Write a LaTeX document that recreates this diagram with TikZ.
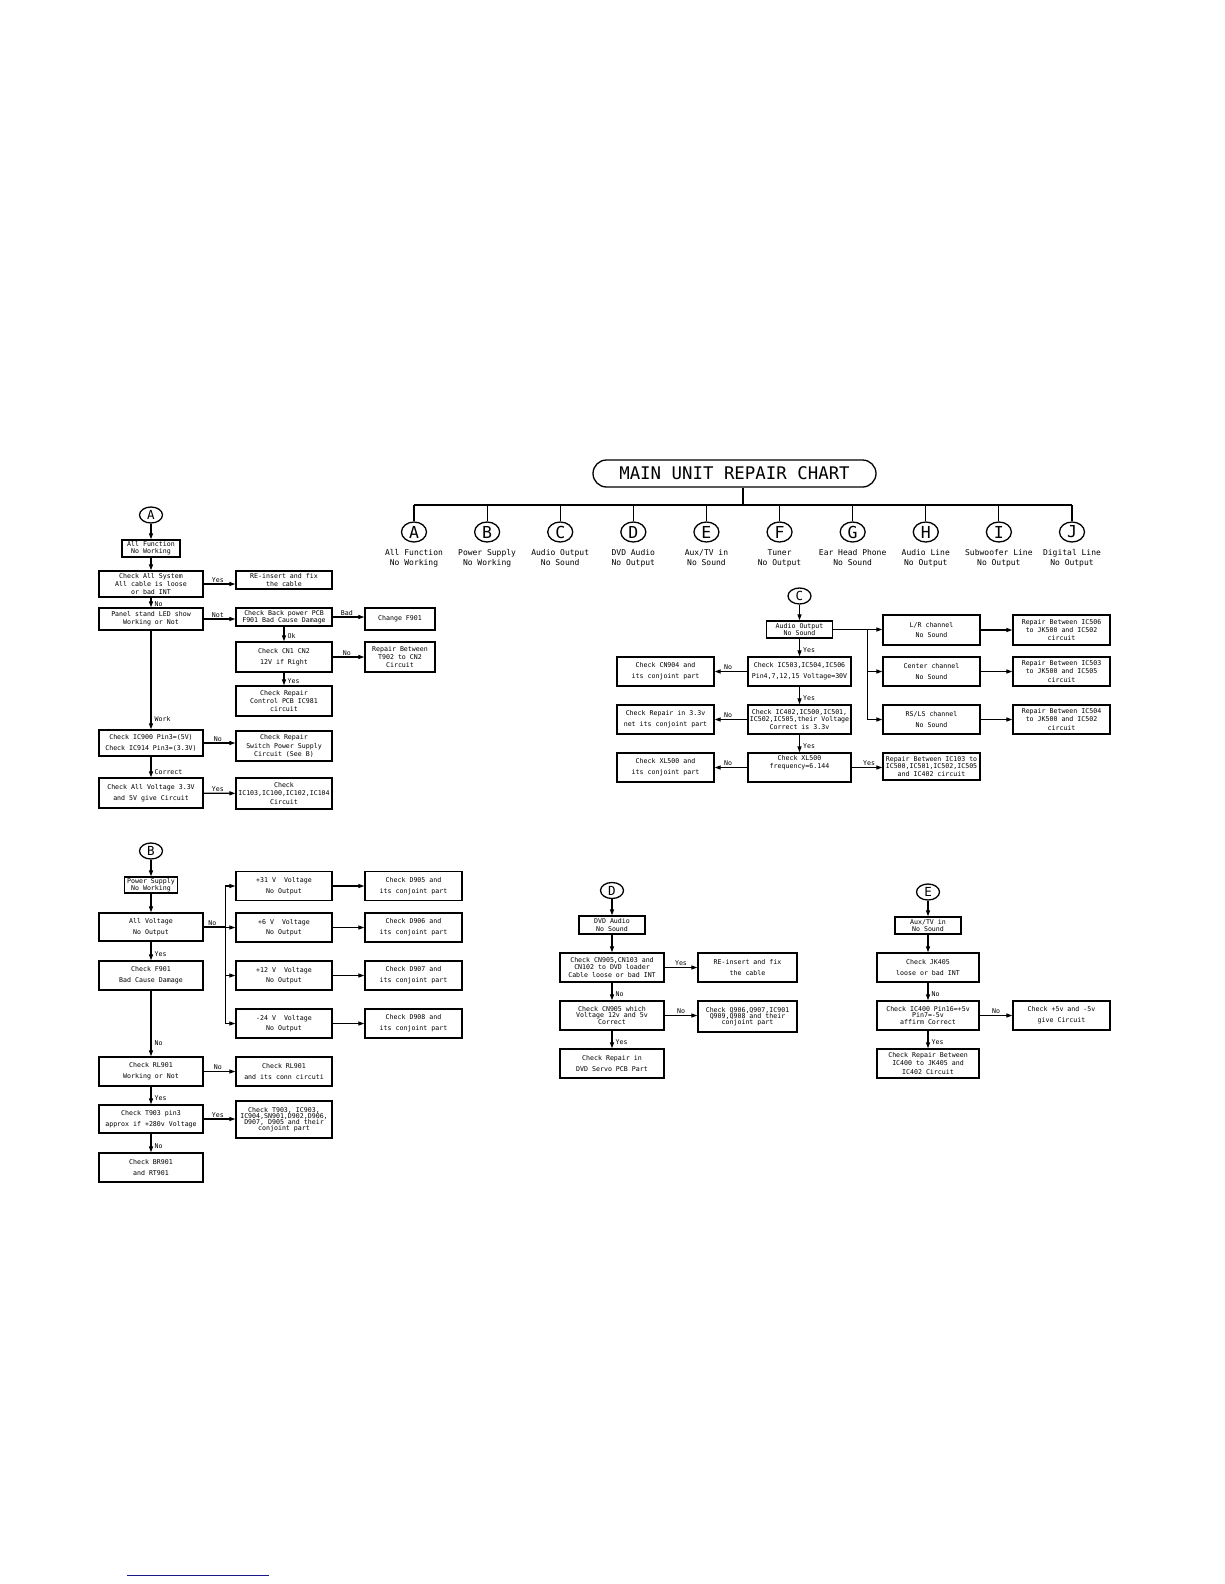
\documentclass[tikz,border=0pt]{standalone}
\usepackage{fontspec}
\usepackage{xcolor}
\usetikzlibrary{arrows.meta,shapes.geometric,calc}
\newfontfamily\cadfont{DejaVu Sans Mono}
\newcommand{\boxfont}{\cadfont\fontsize{6.6}{8.3}\selectfont}
\newcommand{\hdfont}{\cadfont\fontsize{8}{10}\selectfont}
\definecolor{linkblue}{RGB}{25,25,140}

\begin{document}
\begin{tikzpicture}[x=1pt, y=-1pt,
  box/.style={draw, line width=1.3pt, inner sep=1pt, align=center, font=\boxfont},
  letter/.style={draw, ellipse, line width=1.3pt, inner sep=0pt, minimum width=23, minimum height=16,
    font=\cadfont\fontsize{12.5}{12.5}\selectfont},
  bigletter/.style={letter, minimum width=25, minimum height=20, font=\cadfont\fontsize{16.5}{16.5}\selectfont},
  wire/.style={line width=1.2pt},
  arr/.style={line width=1.2pt, -{Triangle[length=6pt,width=4pt]}},
  lab/.style={font=\boxfont, inner sep=1pt},
  vlab/.style={lab, anchor=west, xshift=2pt, pos=0.65},
  hlab/.style={lab, above, pos=0.45}]
\fill[white] (0,0) rectangle (1224,1584);
\useasboundingbox (0,0) rectangle (1224,1584);

% header
\node[draw, line width=1.3pt, rounded corners=13.5pt, minimum width=283, minimum height=27, inner sep=0pt,
  font=\cadfont\fontsize{17.4}{17.4}\selectfont] (title) at (734.5,473.5) {MAIN UNIT REPAIR CHART};
\coordinate (barL) at (414,505);
\coordinate (barR) at (1072,505);
\draw[wire] ([xshift=8.5]title.south) -- ([xshift=8.5]title.south |- barL);
\draw[wire] (barL) -- (barR);
\foreach \n/\txt [count=\i from 0] in {A/{All Function\\No Working}, B/{Power Supply\\No Working},
    C/{Audio Output\\No Sound}, D/{DVD Audio\\No Output}, E/{Aux/TV in\\No Sound},
    F/{Tuner\\No Output}, G/{Ear Head Phone\\No Sound}, H/{Audio Line\\No Output},
    I/{Subwoofer Line\\No Output}, J/{Digital Line\\No Output}} {
  \node[bigletter] (h\n) at ({414+73.11*\i},532) {\n};
  \draw[wire] (h\n |- barL) -- (h\n);
  \node[font=\hdfont, align=center, inner sep=0pt] (h\n-t) at ({414+73.11*\i},558) {\txt};
}

% A
\node[letter] (cA) at (151,515) {A};
\node[box, minimum width=58, minimum height=17] (a1) at (151,548.5) {All Function\\[-1pt]No Working};
\node[box, minimum width=104, minimum height=26] (a2) at (151,584) {Check All System\\All cable is loose\\or bad INT};
\node[box, minimum width=96, minimum height=18] (a2r) at (284,580) {RE-insert and fix\\[-1pt]the cable};
\node[box, minimum width=104, minimum height=22] (a3) at (151,619) {Panel stand LED show\\Working or Not};
\node[box, minimum width=96, minimum height=18] (a3r) at (284,617) {Check Back power PCB\\[-1pt]F901 Bad Cause Damage};
\node[box, minimum width=70, minimum height=22] (a3rr) at (400,619) {Change F901};
\node[box, minimum width=96, minimum height=30] (a4) at (284,657) {Check CN1 CN2\\[2.4pt]12V if Right};
\node[box, minimum width=70, minimum height=30] (a4r) at (400,657) {Repair Between\\T902 to CN2\\Circuit};
\node[box, minimum width=96, minimum height=30] (a5) at (284,701) {Check Repair\\Control PCB IC981\\circuit};
\node[box, minimum width=104, minimum height=26] (a6) at (151,743) {Check IC900 Pin3=(5V)\\[2.4pt]Check IC914 Pin3=(3.3V)};
\node[box, minimum width=96, minimum height=30] (a6r) at (284,746) {Check Repair\\Switch Power Supply\\Circuit (See B)};
\node[box, minimum width=104, minimum height=30] (a7) at (151,793) {Check All Voltage 3.3V\\[2.4pt]and 5V give Circuit};
\node[box, minimum width=96, minimum height=31] (a7r) at (284,793.5) {Check\\IC103,IC100,IC102,IC104\\Circuit};
\draw[arr] (cA) -- (a1);
\draw[arr] (a1) -- (a2);
\draw[arr] (a2.east) -- (a2.east -| a2r.west) node[hlab] {Yes};
\draw[arr] (a2) -- (a3) node[vlab] {No};
\draw[arr] (a3.east) -- (a3.east -| a3r.west) node[hlab] {Not};
\draw[arr] (a3r.east) -- (a3r.east -| a3rr.west) node[hlab] {Bad};
\draw[arr] (a3r) -- (a4) node[vlab] {Ok};
\draw[arr] (a4) -- (a4r) node[hlab] {No};
\draw[arr] (a4) -- (a5) node[vlab] {Yes};
\draw[arr] (a3) -- (a6) node[vlab, pos=0.9] {Work};
\draw[arr] (a6.east) -- (a6.east -| a6r.west) node[hlab] {No};
\draw[arr] (a6) -- (a7) node[vlab, pos=0.75] {Correct};
\draw[arr] (a7) -- (a7r) node[hlab] {Yes};

% B
\node[letter] (cB) at (151,851) {B};
\node[box, minimum width=53, minimum height=16] (b1) at (151,885) {Power Supply\\[-1pt]No Working};
\node[box, minimum width=104, minimum height=28] (b2) at (151,927) {All Voltage\\[2.4pt]No Output};
\node[box, minimum width=104, minimum height=29] (b3) at (151,975.5) {Check F901\\[2.4pt]Bad Cause Damage};
\node[box, minimum width=104, minimum height=29] (b4) at (151,1071.5) {Check RL901\\[2.4pt]Working or Not};
\node[box, minimum width=104, minimum height=28] (b5) at (151,1119) {Check T903 pin3\\[2.4pt]approx if +280v Voltage};
\node[box, minimum width=104, minimum height=29] (b6) at (151,1167.5) {Check BR901\\[2.4pt]and RT901};
\node[box, minimum width=96, minimum height=29] (b4r) at (284,1071.5) {Check RL901\\[2.4pt]and its conn circuti};
\node[box, minimum width=96, minimum height=37] (b5r) at (284,1119.5) {Check T903, IC903,\\[-2.2pt]IC904,SN901,D902,D906,\\[-2.2pt]D907, D905 and their\\[-2.2pt]conjoint part};
\coordinate (bbus) at ([xshift=22]b2.east);
\draw[wire] (b2.east) -- (bbus) node[hlab, pos=0.4] {No};
\foreach \v/\d/\y [count=\i] in {+31/D905/886, +6/D906/927.5, +12/D907/975.5, -24/D908/1023.5} {
  \node[box, minimum width=96, minimum height=29] (bv\i) at (284,\y) {\v~V~~Voltage\\[2.4pt]No Output};
  \node[box, minimum width=97, minimum height=29] (bc\i) at (413.5,\y) {Check \d~and\\[2.4pt]its conjoint part};
  \draw[arr] (bbus) |- (bv\i);
  \draw[arr] (bv\i) -- (bc\i);
}
\draw[arr] (cB) -- (b1);
\draw[arr] (b1) -- (b2);
\draw[arr] (b2) -- (b3) node[vlab] {Yes};
\draw[arr] (b3) -- (b4) node[vlab, pos=0.8] {No};
\draw[arr] (b4) -- (b4r) node[hlab] {No};
\draw[arr] (b4) -- (b5) node[vlab] {Yes};
\draw[arr] (b5.east) -- (b5.east -| b5r.west) node[hlab] {Yes};
\draw[arr] (b5) -- (b6) node[vlab] {No};

% C
\node[letter] (cC) at (799.5,596) {C};
\node[box, minimum width=66, minimum height=17] (c1) at (799.5,629.5) {Audio Output\\[-1pt]No Sound};
\node[box, minimum width=103, minimum height=29] (c2) at (799.5,671.5) {Check IC503,IC504,IC506\\[2.4pt]Pin4,7,12,15 Voltage=30V};
\node[box, minimum width=103, minimum height=29] (c3) at (799.5,719.5) {Check IC402,IC500,IC501,\\[-0.5pt]IC502,IC505,their Voltage\\[-0.5pt]Correct is 3.3v};
\node[box, minimum width=103, minimum height=29] (c4) at (799.5,767.5) {Check XL500\\[-1pt]frequency=6.144\\[3pt]};
\node[box, minimum width=97, minimum height=29] (c2l) at (665.5,671.5) {Check CN904 and\\[2.4pt]its conjoint part};
\node[box, minimum width=97, minimum height=29] (c3l) at (665.5,719.5) {Check Repair in 3.3v\\[2.4pt]net its conjoint part};
\node[box, minimum width=97, minimum height=29] (c4l) at (665.5,767.5) {Check XL500 and\\[2.4pt]its conjoint part};
\node[box, minimum width=97, minimum height=27] (c4r) at (931.5,766.5) {Repair Between IC103 to\\[-0.6pt]IC500,IC501,IC502,IC505\\[-0.6pt]and IC402 circuit};
\node[box, minimum width=97, minimum height=30] (cLR) at (931.5,630) {L/R channel\\[2.4pt]No Sound};
\node[box, minimum width=97, minimum height=29] (cCen) at (931.5,671.5) {Center channel\\[2.4pt]No Sound};
\node[box, minimum width=97, minimum height=29] (cRS) at (931.5,719.5) {RS/LS channel\\[2.4pt]No Sound};
\node[box, minimum width=97, minimum height=30] (cR1) at (1061.5,630) {Repair Between IC506\\to JK500 and IC502\\circuit};
\node[box, minimum width=97, minimum height=29] (cR2) at (1061.5,671.5) {Repair Between IC503\\to JK500 and IC505\\circuit};
\node[box, minimum width=97, minimum height=29] (cR3) at (1061.5,719.5) {Repair Between IC504\\to JK500 and IC502\\circuit};
\coordinate (cbus) at ([xshift=34]c1.east);
\draw[arr] (cC) -- (c1);
\draw[arr] (c1) -- (c2) node[vlab] {Yes};
\draw[arr] (c2) -- (c2l) node[hlab, pos=0.59] {No};
\draw[arr] (c2) -- (c3) node[vlab] {Yes};
\draw[arr] (c3) -- (c3l) node[hlab, pos=0.59] {No};
\draw[arr] (c3) -- (c4) node[vlab] {Yes};
\draw[arr] (c4) -- (c4l) node[hlab, pos=0.59] {No};
\draw[arr] (c4.east) -- (c4.east -| c4r.west) node[hlab, pos=0.57] {Yes};
\draw[arr] (c1.east) -- (c1.east -| cLR.west);
\draw[arr] (cbus) |- (cCen);
\draw[arr] (cbus) |- (cRS);
\draw[arr] (cLR) -- (cR1);
\draw[arr] (cCen) -- (cR2);
\draw[arr] (cRS) -- (cR3);

% D
\node[letter] (cD) at (612,890.5) {D};
\node[box, minimum width=66, minimum height=18] (d1) at (612,925) {DVD Audio\\[-1pt]No Sound};
\node[box, minimum width=104, minimum height=29] (d2) at (612,967.5) {Check CN905,CN103 and\\[-1pt]CN102 to DVD loader\\[-1pt]Cable loose or bad INT};
\node[box, minimum width=99, minimum height=29] (d2r) at (747.5,967.5) {RE-insert and fix\\[2.4pt]the cable};
\node[box, minimum width=104, minimum height=29] (d3) at (612,1015.5) {Check CN905 which\\[-2pt]Voltage 12v and 5v\\[-2pt]Correct};
\node[box, minimum width=99, minimum height=31] (d3r) at (747.5,1016.5) {Check Q906,Q907,IC901\\[-2pt]Q909,Q908 and their\\[-2pt]conjoint part};
\node[box, minimum width=104, minimum height=29] (d4) at (612,1063.5) {Check Repair in\\[2.4pt]DVD Servo PCB Part};
\draw[arr] (cD) -- (d1);
\draw[arr] (d1) -- (d2);
\draw[arr] (d2) -- (d2r) node[hlab, pos=0.5] {Yes};
\draw[arr] (d2) -- (d3) node[vlab] {No};
\draw[arr] (d3.east) -- (d3.east -| d3r.west) node[hlab, pos=0.5] {No};
\draw[arr] (d3) -- (d4) node[vlab] {Yes};

% E
\node[letter] (cE) at (928,892) {E};
\node[box, minimum width=66, minimum height=17] (e1) at (928,925.5) {Aux/TV in\\[-1pt]No Sound};
\node[box, minimum width=102, minimum height=29] (e2) at (928,967.5) {Check JK405\\[2.4pt]loose or bad INT};
\node[box, minimum width=102, minimum height=29] (e3) at (928,1015.5) {Check IC400 Pin16=+5v\\[-2pt]Pin7=-5v\\[-2pt]affirm Correct};
\node[box, minimum width=97, minimum height=29] (e3r) at (1061.5,1015.5) {Check +5v and -5v\\[2.4pt]give Circuit};
\node[box, minimum width=102, minimum height=29] (e4) at (928,1063.5) {Check Repair Between\\IC400 to JK405 and\\IC402 Circuit};
\draw[arr] (cE) -- (e1);
\draw[arr] (e1) -- (e2);
\draw[arr] (e2) -- (e3) node[vlab] {No};
\draw[arr] (e3) -- (e3r) node[hlab, pos=0.5] {No};
\draw[arr] (e3) -- (e4) node[vlab] {Yes};

% link underline
\draw[linkblue, line width=1pt] (127,1575) -- (269,1575);
\end{tikzpicture}
\end{document}
